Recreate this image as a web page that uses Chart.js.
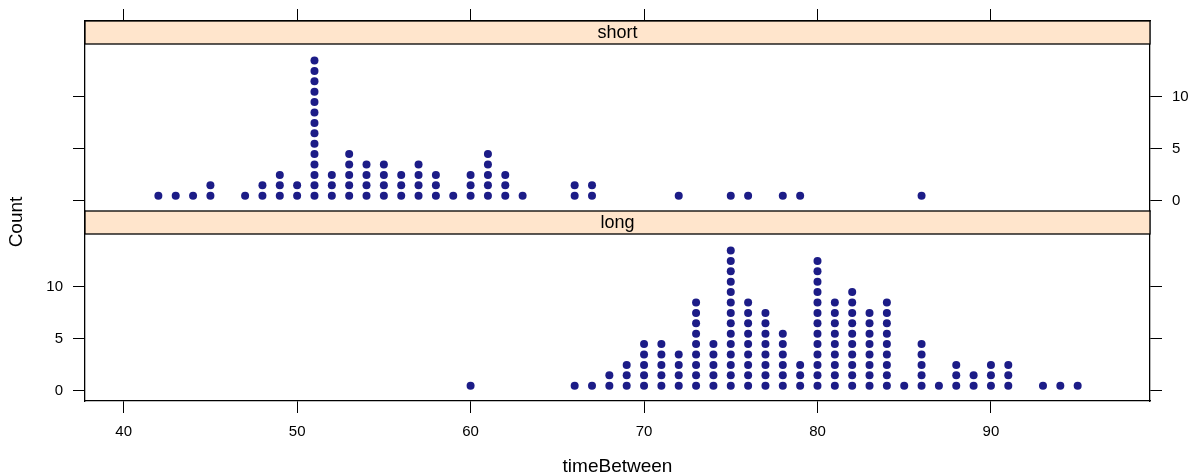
<!DOCTYPE html>
<html>
<head>
<meta charset="utf-8">
<script src="https://cdn.jsdelivr.net/npm/chart.js@4"></script>
<style>
  body { margin: 0; background: #fff; }
  #Cnvs { display: block; }
</style>
</head>
<body>
<canvas id="Cnvs" width="1197" height="476"></canvas>
<script>
// values: timeBetween value -> count of dots
var shortTimes  = [42,43,44,45,47,48,49,50,51,52,53,54,55,56,57,58,59,60,61,62,63,66,67,72,75,76,78,79,86];
var shortCounts = [ 1, 1, 1, 2, 1, 2, 3, 2,14, 3, 5, 4, 4, 3, 4, 3, 1, 3, 5, 3, 1, 2, 2, 1, 1, 1, 1, 1, 1];
var longTimes   = [60,66,67,68,69,70,71,72,73,74,75,76,77,78,79,80,81,82,83,84,85,86,87,88,89,90,91,93,94,95];
var longCounts  = [ 1, 1, 1, 2, 3, 5, 5, 4, 9, 5,14, 9, 8, 6, 3,13, 9,10, 8, 9, 1, 5, 1, 3, 2, 3, 3, 1, 1, 1];
var xTicks = [40, 50, 60, 70, 80, 90];
var yTicks = [0, 5, 10];
var panelNames = ['short', 'long'];

var dotColor = '#1c1c87';
var stripColor = '#ffe5cc';
var fam = 'Liberation Sans, Arial, sans-serif';

// one dot per observation, stacked at 0.5, 1.5, ...
function dots(times, counts) {
  var pts = [];
  for (var i = 0; i < times.length; i++) {
    for (var k = 0; k < counts[i]; k++) pts.push({x: times[i], y: k + 0.5});
  }
  return pts;
}

var tickFont = {family: fam, size: 15};

function setTicks(list) {
  return function(scale) { scale.ticks = list.map(function(v) { return {value: v}; }); };
}
function fixW(w) { return function(scale) { scale.width = w; }; }
function fixH(h) { return function(scale) { scale.height = h; }; }

function yAxis(pos, labelled) {
  return {
    type: 'linear', position: pos, stack: 'panels', stackWeight: 1,
    min: -0.97, max: 17.3,
    grid: {drawOnChartArea: false, color: '#000', tickColor: '#000', tickLength: 12, tickWidth: 1},
    border: {display: true, color: '#000', width: 1.3},
    ticks: {
      color: '#000', font: tickFont, padding: 10,
      callback: function(v) { return labelled ? String(v) : ''; }
    },
    afterBuildTicks: setTicks(yTicks),
    afterFit: fixW(pos === 'left' ? 85 : 47)
  };
}

var stripPlugin = {
  id: 'strips',
  afterDatasetsDraw: function(chart) {
    var ctx = chart.ctx, a = chart.chartArea;
    var ids = ['yS', 'yL'];
    ctx.save();
    for (var i = 0; i < ids.length; i++) {
      var s = chart.scales[ids[i]];
      var top = s.top, h = 23;
      ctx.fillStyle = stripColor;
      ctx.fillRect(a.left, top, a.right - a.left, h);
      ctx.strokeStyle = '#000';
      ctx.lineWidth = 1.3;
      ctx.strokeRect(a.left, top, a.right - a.left, h);
      ctx.fillStyle = '#000';
      ctx.font = '18px ' + fam;
      ctx.textAlign = 'center';
      ctx.textBaseline = 'middle';
      ctx.fillText(panelNames[i], (a.left + a.right) / 2, top + h / 2 + 1);
    }
    // axis titles
    ctx.font = '19px ' + fam;
    ctx.fillText('timeBetween', (a.left + a.right) / 2, 467);
    ctx.translate(17, 222);
    ctx.rotate(-Math.PI / 2);
    ctx.fillText('Count', 0, 0);
    ctx.restore();
  }
};

var chart = new Chart(document.getElementById('Cnvs'), {
  type: 'scatter',
  data: {
    datasets: [
      {label: 'short', data: dots(shortTimes, shortCounts), yAxisID: 'yS', xAxisID: 'x',
       backgroundColor: dotColor, borderWidth: 0, pointRadius: 4, pointHoverRadius: 4},
      {label: 'long', data: dots(longTimes, longCounts), yAxisID: 'yL', xAxisID: 'x',
       backgroundColor: dotColor, borderWidth: 0, pointRadius: 4, pointHoverRadius: 4}
    ]
  },
  options: {
    responsive: false,
    animation: false,
    layout: {padding: 0},
    plugins: {legend: {display: false}, tooltip: {enabled: false}},
    scales: {
      x: {
        type: 'linear', position: 'bottom', min: 37.77, max: 99.17,
        grid: {drawOnChartArea: false, color: '#000', tickColor: '#000', tickLength: 12},
        border: {display: true, color: '#000', width: 1.3},
        ticks: {color: '#000', font: tickFont, padding: 10},
        afterBuildTicks: setTicks(xTicks),
        afterFit: fixH(75)
      },
      x2: {
        type: 'linear', position: 'top', min: 37.77, max: 99.17,
        grid: {drawOnChartArea: false, color: '#000', tickColor: '#000', tickLength: 12},
        border: {display: true, color: '#000', width: 1.3},
        ticks: {callback: function() { return ''; }},
        afterBuildTicks: setTicks(xTicks),
        afterFit: fixH(21)
      },
      yL: yAxis('left', true),
      yS: yAxis('left', false),
      ySr: yAxis('right', true),
      yLr: yAxis('right', false)
    }
  },
  plugins: [stripPlugin]
});
</script>
</body>
</html>
